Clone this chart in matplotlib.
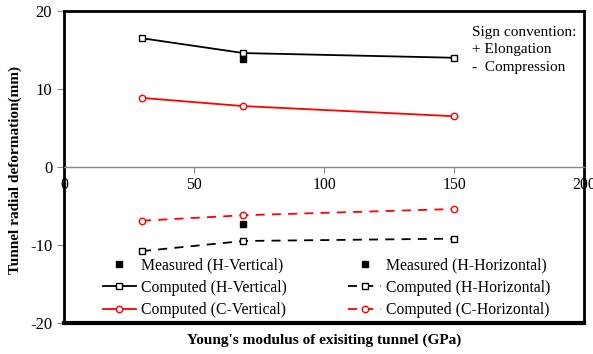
import matplotlib
matplotlib.use("Agg")
import matplotlib.pyplot as plt

E = [30, 69, 150]
comp_h_vert = [16.5, 14.6, 14.0]
comp_c_vert = [8.85, 7.8, 6.5]
comp_h_horz = [-10.8, -9.5, -9.2]
comp_c_horz = [-6.9, -6.2, -5.4]
meas_E = [69]
meas_h_vert = [13.8]
meas_h_horz = [-7.3]

plt.rcParams['font.family'] = ['Liberation Serif', 'DejaVu Serif']
plt.rcParams['axes.unicode_minus'] = False

fig = plt.figure(figsize=(5.93, 3.54), dpi=100)
ax = fig.add_axes([0.108, 0.088, 0.877, 0.881])

ms = 4.6
ax.plot(meas_E, meas_h_vert, 's', color='black', ms=ms, label='Measured (H-Vertical)', zorder=5)
ax.plot(E, comp_h_vert, '-s', color='black', mfc='white', ms=ms, lw=1.3, label='Computed (H-Vertical)')
ax.plot(E, comp_c_vert, '-o', color='red', mfc='white', ms=ms, lw=1.3, label='Computed (C-Vertical)')
ax.plot(meas_E, meas_h_horz, 's', color='black', ms=ms, label='Measured (H-Horizontal)', zorder=5)
ax.plot(E, comp_h_horz, '--s', color='black', mfc='white', ms=ms, lw=1.3, dashes=(5, 4), label='Computed (H-Horizontal)')
ax.plot(E, comp_c_horz, '--o', color='red', mfc='white', ms=ms, lw=1.3, dashes=(5, 4), label='Computed (C-Horizontal)')

ax.set_xlim(0, 200)
ax.set_ylim(-20, 20)
ax.set_xticks([0, 50, 100, 150, 200])
ax.set_yticks([-20, -10, 0, 10, 20])

ax.spines['bottom'].set_position(('data', 0))
ax.spines['bottom'].set_color('#888888')
ax.spines['bottom'].set_linewidth(1.0)
for s in ['top', 'left', 'right']:
    ax.spines[s].set_linewidth(2.0)
    ax.spines[s].set_color('black')
ax.axhline(-20, color='black', lw=3.0, clip_on=False, zorder=6)

ax.tick_params(axis='x', direction='out', length=4, color='#888888', labelsize=11.3, pad=3)
ax.tick_params(axis='y', direction='out', length=5, color='#888888', labelsize=12)

ax.set_ylabel('Tunnel radial deformation(mm)', fontsize=11, fontweight='bold')
ax.yaxis.set_label_coords(-0.081, 0.49)
ax.set_xlabel("Young's modulus of exisiting tunnel (GPa)", fontsize=11, fontweight='bold')
ax.xaxis.set_label_coords(0.5, -0.033)

ax.text(0.785, 0.953, 'Sign convention:\n+ Elongation\n-  Compression', transform=ax.transAxes,
        fontsize=11, va='top', ha='left', linespacing=1.45)

leg = ax.legend(ncol=2, loc='lower center', bbox_to_anchor=(0.505, -0.03), frameon=False,
                fontsize=11.3, handlelength=2.1, columnspacing=3.95, labelspacing=0.4,
                handletextpad=0.3)

fig.savefig('out.png', dpi=100)
